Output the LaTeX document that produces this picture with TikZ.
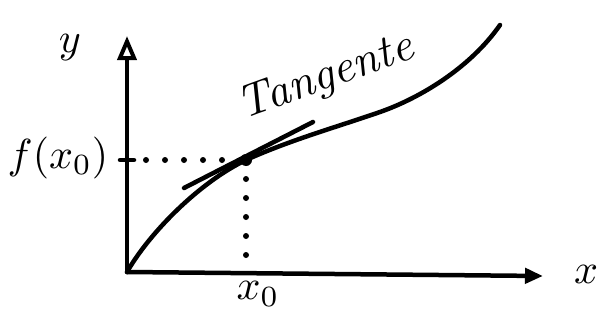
\documentclass[tikz,border=0pt]{standalone}
\usetikzlibrary{arrows.meta}
\begin{document}
\begin{tikzpicture}[x=1pt,y=-1pt,
  pen/.style={line width=4.5pt,line cap=round,line join=round},
  dots/.style={line width=6pt,line cap=round,dash pattern=on 0pt off 19pt},
  lbl/.style={scale=4.2,inner sep=0pt}]
\useasboundingbox (0,0) rectangle (604,321);
\coordinate (O) at (127,272);
\coordinate (Ytip) at (127,36);
\coordinate (Xtip) at (543,276);
\coordinate (P) at (246,160);
\coordinate (Py) at (127,160);
\coordinate (Px) at (246,272);
\coordinate (M) at (380,112);
\coordinate (E) at (500,25);
\coordinate (T1) at (184,188);
\coordinate (T2) at (313,122);
% axes
\draw[pen,-{Triangle[open,length=24pt,width=19pt,line width=4pt]}] (O) -- (Ytip);
\draw[pen,-{Triangle[length=18pt,width=15pt]}] (O) -- (Xtip);
% tick
\draw[pen] ([xshift=-7pt]Py) -- ([xshift=7pt]Py);
% dotted guides
\draw[dots] (Py) -- (P);
\draw[dots] (P) -- (Px);
% curve
\draw[pen] (O) .. controls (150,232) and (200,182) .. (P)
  .. controls (290,140) and (340,126) .. (M)
  .. controls (420,98) and (470,68) .. (E);
% tangent
\draw[pen] (T1) -- (T2);
\fill (P) circle (6pt);
% labels
\node[lbl] (ly) at (70,48) {$y$};
\node[lbl] (lx) at (586,274) {$x$};
\node[lbl] (lf) at (58,158) {$f(x_0)$};
\node[lbl] (lx0) at (258,294) {$x_0$};
\node[scale=4.6,inner sep=0pt,rotate=20,font=\itshape] (lt) at (326,78) {Tangente};
\end{tikzpicture}
\end{document}
